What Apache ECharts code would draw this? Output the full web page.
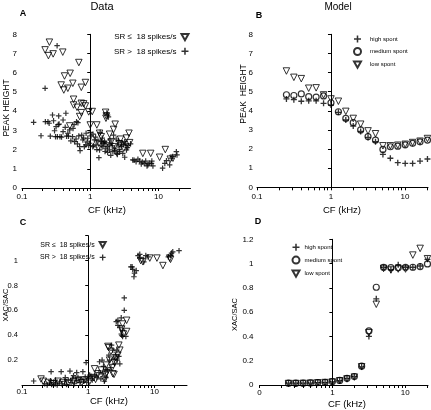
<!DOCTYPE html>
<html><head><meta charset="utf-8">
<script src="https://cdn.jsdelivr.net/npm/echarts@6/dist/echarts.min.js"></script>
<style>html,body{margin:0;padding:0;background:#fff}#c{width:431px;height:410px}</style>
</head><body><div id="c"></div>
<script>
// ---------- DATA ----------
// Panel A (Data, peak height) : [CF kHz, value]
const aLowSR = [[0.252,7.59],[0.218,7.19],[0.244,6.89],[0.286,6.98],[0.396,7.07],[0.681,6.53],[0.42,5.83],[0.508,5.97],[0.375,5.36],[0.41,5.1],[0.47,5.19],[0.556,5.45],[0.74,5.24],[0.85,5.49],[0.57,4.62],[0.57,4.32],[0.64,4.2],[0.74,4.41],[0.8,4.38],[0.85,4.27],[0.70,3.72],[0.74,3.92],[0.95,3.96],[1.07,3.98],[1.0,3.28],[1.25,3.28],[1.68,3.94],[1.72,3.75],[1.7,3.63],[2.32,3.32],[2.2,3.05],[1.92,2.8],[3.7,2.85],[3.78,2.36],[2.78,2.54],[1.45,2.67],[5.9,1.8],[7.7,1.8],[10.4,1.6],[12.6,2.0],[14.9,1.5],[0.5,3.23],[1.37,2.85],[2.7,2.3],[2.03,2.41],[3.1,2.07],[1.34,2.33],[2.28,2.15],[3.4,2.6],[16.3,1.55]];
const aHighSR = [[0.148,3.42],[0.19,2.72],[0.22,3.45],[0.25,3.37],[0.28,3.8],[0.29,3.5],[0.345,3.75],[0.316,3.19],[0.31,2.67],[0.33,2.67],[0.36,2.67],[0.44,3.89],[0.40,3.54],[0.35,3.33],[0.30,2.98],[0.43,3.16],[0.50,3.02],[0.47,2.85],[0.40,2.93],[0.66,3.40],[0.68,2.71],[0.55,2.67],[0.59,2.41],[0.78,2.50],[0.70,2.15],[0.71,1.94],[0.87,2.85],[0.92,2.59],[1.03,2.71],[1.15,2.50],[0.98,2.33],[1.22,2.24],[1.37,1.98],[1.34,1.58],[1.53,2.15],[1.62,2.41],[0.82,2.15],[1.09,2.15],[1.45,2.41],[1.60,2.33],[1.80,2.15],[2.03,2.33],[2.28,2.07],[2.55,2.24],[2.85,2.15],[3.20,2.41],[3.40,1.98],[3.00,1.80],[2.70,1.89],[2.15,1.89],[1.92,1.98],[1.70,2.07],[3.20,1.60],[4.20,1.46],[4.70,1.37],[5.30,1.40],[6.20,1.28],[7.00,1.20],[7.90,1.28],[8.30,1.15],[5.60,1.25],[11.5,1.03],[12.4,1.28],[14.6,1.20],[13.1,1.42],[18.3,1.89],[18.7,1.72],[15.4,1.55],[16.2,1.64],[0.218,5.19],[0.327,7.41],[0.62,2.55],[0.75,2.75],[0.90,2.40],[1.00,2.90],[1.10,2.80],[1.20,2.65],[1.30,2.45],[1.50,2.60],[1.70,2.35],[1.90,2.25],[2.10,2.20],[2.30,1.95],[2.50,1.75],[2.60,2.45],[2.90,2.35],[3.30,2.30],[3.60,2.20],[3.90,2.30],[2.00,1.70],[1.80,1.85],[0.52,2.45],[0.45,2.70],[0.38,2.65],[0.65,2.30],[0.80,2.60],[0.95,2.20],[1.25,2.00],[1.45,2.20],[1.65,1.90],[2.40,2.55],[3.10,2.25],[4.40,1.45],[5.00,1.50],[5.80,1.35],[6.50,1.40],[7.30,1.30],[6.80,1.15],[8.00,1.40],[1.75,3.90],[1.80,3.80],[1.85,3.70],[0.63,3.45],[0.56,3.10],[0.24,3.45],[0.26,2.70],[0.34,3.30],[0.48,2.70],[0.58,3.30],[0.86,2.25],[1.12,2.20],[1.40,2.90],[2.20,2.75],[2.45,1.80],[3.50,2.10],[1.55,2.35],[1.95,2.50],[2.65,2.00]];

// Panel C (Data, XAC/SAC)
const cLowSR = [[0.194,0.048],[0.21,0.03],[0.25,0.02],[0.30,0.01],[0.35,0.03],[0.42,0.02],[0.50,0.015],[0.60,0.03],[0.70,0.04],[0.80,0.02],[0.88,0.04],[1.05,0.03],[1.2,0.06],[1.245,0.13],[1.29,0.045],[1.40,0.09],[1.57,0.12],[1.77,0.045],[1.83,0.08],[1.87,0.16],[1.9,0.1],[1.98,0.31],[2.04,0.30],[2.1,0.2],[2.2,0.27],[2.3,0.14],[2.35,0.09],[2.45,0.085],[2.5,0.18],[2.6,0.22],[2.8,0.24],[2.9,0.32],[3.0,0.28],[3.2,0.45],[3.3,0.49],[3.4,0.41],[3.8,0.52],[3.8,0.43],[6.2,1.0],[6.7,0.99],[8.5,1.02],[10.9,1.02],[13.4,0.96],[17.0,1.02],[17.5,1.01]];
const cHighSR = [[0.15,0.032],[0.275,0.107],[0.39,0.107],[0.53,0.112],[0.67,0.10],[0.83,0.107],[0.93,0.18],[1.05,0.08],[1.48,0.187],[1.62,0.20],[1.66,0.09],[1.75,0.03],[1.85,0.06],[1.85,0.12],[2.2,0.14],[2.1,0.2],[2.35,0.28],[2.5,0.17],[2.6,0.24],[2.9,0.23],[3.0,0.17],[2.65,0.51],[2.8,0.48],[2.8,0.52],[3.0,0.46],[3.15,0.54],[3.15,0.41],[3.3,0.44],[3.3,0.39],[3.5,0.60],[3.5,0.70],[3.2,0.40],[3.7,0.39],[4.4,0.95],[4.6,0.95],[4.7,0.93],[4.9,0.87],[5.0,0.90],[5.3,0.92],[5.65,1.04],[6.0,1.02],[6.0,1.05],[6.9,0.99],[7.4,1.04],[8.0,1.03],[16.2,1.03],[17.5,1.04],[18.1,1.06],[18.9,1.07],[23.5,1.08],[0.22,0.01],[0.24,0.0],[0.26,0.015],[0.28,0.005],[0.3,0.02],[0.32,0.01],[0.34,0.0],[0.37,0.025],[0.4,0.01],[0.44,0.03],[0.47,0.005],[0.5,0.04],[0.55,0.02],[0.58,0.05],[0.62,0.01],[0.66,0.035],[0.7,0.06],[0.75,0.02],[0.78,0.045],[0.85,0.03],[0.9,0.065],[0.95,0.02],[1.0,0.05],[1.1,0.07],[1.15,0.04],[1.25,0.08],[1.35,0.06],[1.45,0.1],[1.55,0.05],[1.7,0.15],[1.95,0.12],[2.05,0.24],[2.25,0.32],[2.45,0.21],[2.7,0.28],[2.75,0.2],[0.45,0.06],[0.6,0.075],[0.32,0.04],[0.27,0.035]];

// Model panels B and D share the CF grid
const modelCF = [0.25,0.315,0.397,0.5,0.63,0.794,1.0,1.26,1.587,2.0,2.52,3.17,4.0,5.04,6.35,8.0,10.08,12.7,16.0,20.16];
const bHigh = [4.62,4.58,4.50,4.52,4.52,4.39,4.30,3.92,3.52,3.20,2.92,2.61,2.38,1.72,1.52,1.29,1.25,1.25,1.37,1.48];
const bMed  = [4.84,4.80,4.88,4.74,4.72,4.78,4.42,3.95,3.60,3.38,3.00,2.65,2.47,1.98,2.12,2.15,2.22,2.30,2.38,2.47];
const bLow  = [6.08,5.75,5.68,5.18,5.20,4.83,4.62,4.50,3.97,3.60,3.30,2.95,2.80,2.17,2.17,2.20,2.25,2.34,2.41,2.55];
const dHigh = [0.015,0.015,0.015,0.015,0.02,0.02,0.025,0.035,0.055,0.07,0.15,0.40,0.71,0.97,0.95,0.99,0.97,0.97,0.98,1.035];
const dMed  = [0.015,0.015,0.015,0.017,0.02,0.022,0.028,0.038,0.055,0.07,0.155,0.445,0.805,0.97,0.966,0.966,0.97,0.97,0.975,0.997];
const dLow  = [0.012,0.012,0.013,0.015,0.018,0.02,0.025,0.035,0.05,0.065,0.15,0.43,0.665,0.96,0.947,0.955,0.955,1.07,1.125,1.04];

const majorTicks = [0.1, 1, 10];
const allTicks = [0.1,0.2,0.3,0.4,0.5,0.6,0.7,0.8,0.9,1,2,3,4,5,6,7,8,9,10,20];
const nameLow = 'SR \u2264  18 spikes/s', nameHigh = 'SR >  18 spikes/s';

// ---------- HELPERS ----------
const L = Math.log10;
const FONT = "'Liberation Sans', Arial, sans-serif";
const PLUS = 'path://M39,0H61V39H100V61H61V100H39V61H0V39H39Z';
const TRI = 'path://M0,0H100L50,90Z';
const pairs = arr => arr.map(p => [L(p[0]), p[1]]);
const grid = (cf, vals) => cf.map((c, i) => [L(c), vals[i]]);

function xAxisFor(gi, min, max, labelFmt, labelMargin) {
  return {
    type: 'value', gridIndex: gi, min: L(min), max: L(max), position: 'bottom',
    axisLine: {show: true, lineStyle: {color: '#000', width: 1}},
    splitLine: {show: false},
    axisTick: {show: true, length: 3, customValues: allTicks.filter(v => v <= max).map(L), lineStyle: {color: '#000'}},
    axisLabel: {customValues: majorTicks.map(L), formatter: labelFmt, color: '#000', fontSize: 8, fontFamily: FONT, margin: labelMargin}
  };
}
function yAxisFor(gi, max, interval, fmt, margin, fs) {
  return {
    type: 'value', gridIndex: gi, min: 0, max: max, interval: interval,
    axisLine: {show: true, lineStyle: {color: '#000', width: 1}},
    splitLine: {show: false},
    axisTick: {show: true, length: 3, lineStyle: {color: '#000'}},
    axisLabel: {color: '#000', fontSize: fs || 8, fontFamily: FONT, margin: margin, formatter: fmt}
  };
}
const fmtX = v => { const r = Math.round(Math.pow(10, v) * 10) / 10; return String(r); };
const fmtXD = v => { const r = Math.round(Math.pow(10, v) * 10) / 10; return r === 0.1 ? '0' : String(r); };

const triStyle = {color: 'rgba(255,255,255,0)', borderColor: '#000', borderWidth: 1};
const circStyle = {color: 'rgba(255,255,255,0)', borderColor: '#000', borderWidth: 1.2};
const plusStyle = {color: '#000'};

function sc(name, xi, yi, data, kind, size) {
  const s = {type: 'scatter', name: name, xAxisIndex: xi, yAxisIndex: yi, data: data, symbolSize: size, silent: true, animation: false};
  if (kind === 'tri') { s.symbol = TRI; s.itemStyle = triStyle; }
  else if (kind === 'circ') { s.symbol = 'circle'; s.itemStyle = circStyle; }
  else { s.symbol = PLUS; s.itemStyle = plusStyle; }
  return s;
}

function txt(x, y, text, size, opts) {
  opts = opts || {};
  return {type: 'text', x: x, y: y, rotation: opts.rot || 0, silent: true,
    style: {text: text, fill: '#000', font: (opts.bold ? 'bold ' : '') + size + 'px ' + FONT,
      textAlign: 'center', textVerticalAlign: 'middle', align: 'center', verticalAlign: 'middle'}};
}

const chart = echarts.init(document.getElementById('c'), null, {renderer: 'canvas'});
const option = {
  backgroundColor: '#fff',
  animation: false,
  grid: [
    {left: 22, top: 34.3, width: 168.5, height: 153.7},
    {left: 257, top: 34.3, width: 171, height: 153},
    {left: 22, top: 235.7, width: 165, height: 149.3},
    {left: 259.5, top: 239.3, width: 168.5, height: 145.7}
  ],
  xAxis: [
    xAxisFor(0, 0.1, 29.5, fmtX, 5),
    xAxisFor(1, 0.1, 20.5, fmtX, 5),
    xAxisFor(2, 0.1, 31, fmtX, 3),
    xAxisFor(3, 0.1, 20.5, fmtXD, 4)
  ],
  yAxis: [
    yAxisFor(0, 8, 1, v => String(v), 5),
    yAxisFor(1, 8, 1, v => String(v), 4),
    yAxisFor(2, 1.2, 0.2, v => (v < 0.01 || v > 1.1) ? '' : String(Math.round(v * 10) / 10), 4, 7.5),
    yAxisFor(3, 1.2, 0.2, v => String(Math.round(v * 10) / 10), 6)
  ],
  legend: [
    {orient: 'vertical', left: 114, top: 33, padding: 0, align: 'right', itemWidth: 7, itemHeight: 7, itemGap: 6,
     selectedMode: false, data: [nameLow, nameHigh],
     textStyle: {fontSize: 8, fontFamily: FONT, color: '#000'}},
    {orient: 'vertical', left: 40, top: 241, padding: 0, align: 'right', itemWidth: 6, itemHeight: 6, itemGap: 5.5,
     selectedMode: false, data: [nameLow, nameHigh],
     textStyle: {fontSize: 7, fontFamily: FONT, color: '#000'}},
    {orient: 'vertical', left: 353, top: 35.5, padding: 0, itemWidth: 7, itemHeight: 7, itemGap: 4.5,
     selectedMode: false, data: ['high spont', 'medium spont', 'low spont'],
     textStyle: {fontSize: 6, fontFamily: FONT, color: '#000', padding: [0, 0, 0, 4]}},
    {orient: 'vertical', left: 291.5, top: 243.8, padding: 0, itemWidth: 7, itemHeight: 7, itemGap: 4.8,
     selectedMode: false, data: ['high spont', 'medium spont', 'low spont'],
     textStyle: {fontSize: 6, fontFamily: FONT, color: '#000'}}
  ],
  series: [
    sc(nameHigh, 0, 0, pairs(aHighSR), 'plus', 5.5),
    sc(nameLow, 0, 0, pairs(aLowSR), 'tri', 6.5),
    sc('high spont', 1, 1, grid(modelCF, bHigh), 'plus', 6),
    sc('medium spont', 1, 1, grid(modelCF, bMed), 'circ', 6),
    sc('low spont', 1, 1, grid(modelCF, bLow), 'tri', 6.5),
    sc(nameHigh, 2, 2, pairs(cHighSR), 'plus', 5.5),
    sc(nameLow, 2, 2, pairs(cLowSR), 'tri', 6.5),
    sc('high spont', 3, 3, grid(modelCF, dHigh), 'plus', 6),
    sc('medium spont', 3, 3, grid(modelCF, dMed), 'circ', 6),
    sc('low spont', 3, 3, grid(modelCF, dLow), 'tri', 6.5)
  ],
  graphic: [
    txt(102, 7, 'Data', 11),
    txt(338, 7, 'Model', 10),
    txt(23, 14, 'A', 9, {bold: true}),
    txt(259, 15.5, 'B', 9, {bold: true}),
    txt(23, 222.5, 'C', 9, {bold: true}),
    txt(258, 221.5, 'D', 9, {bold: true}),
    txt(107, 210, 'CF (kHz)', 9.5),
    txt(342, 210.5, 'CF (kHz)', 9.5),
    txt(109, 401, 'CF (kHz)', 9.5),
    txt(347, 404.5, 'CF (kHz)', 9.5),
    txt(7, 108, 'PEAK HEIGHT', 8.5, {rot: Math.PI / 2}),
    txt(243.5, 94, 'PEAK  HEIGHT', 8.5, {rot: Math.PI / 2}),
    txt(6, 305, 'XAC/SAC', 7.5, {rot: Math.PI / 2}),
    txt(235, 314.5, 'XAC/SAC', 7.5, {rot: Math.PI / 2})
  ]
};
chart.setOption(option);
</script></body></html>
